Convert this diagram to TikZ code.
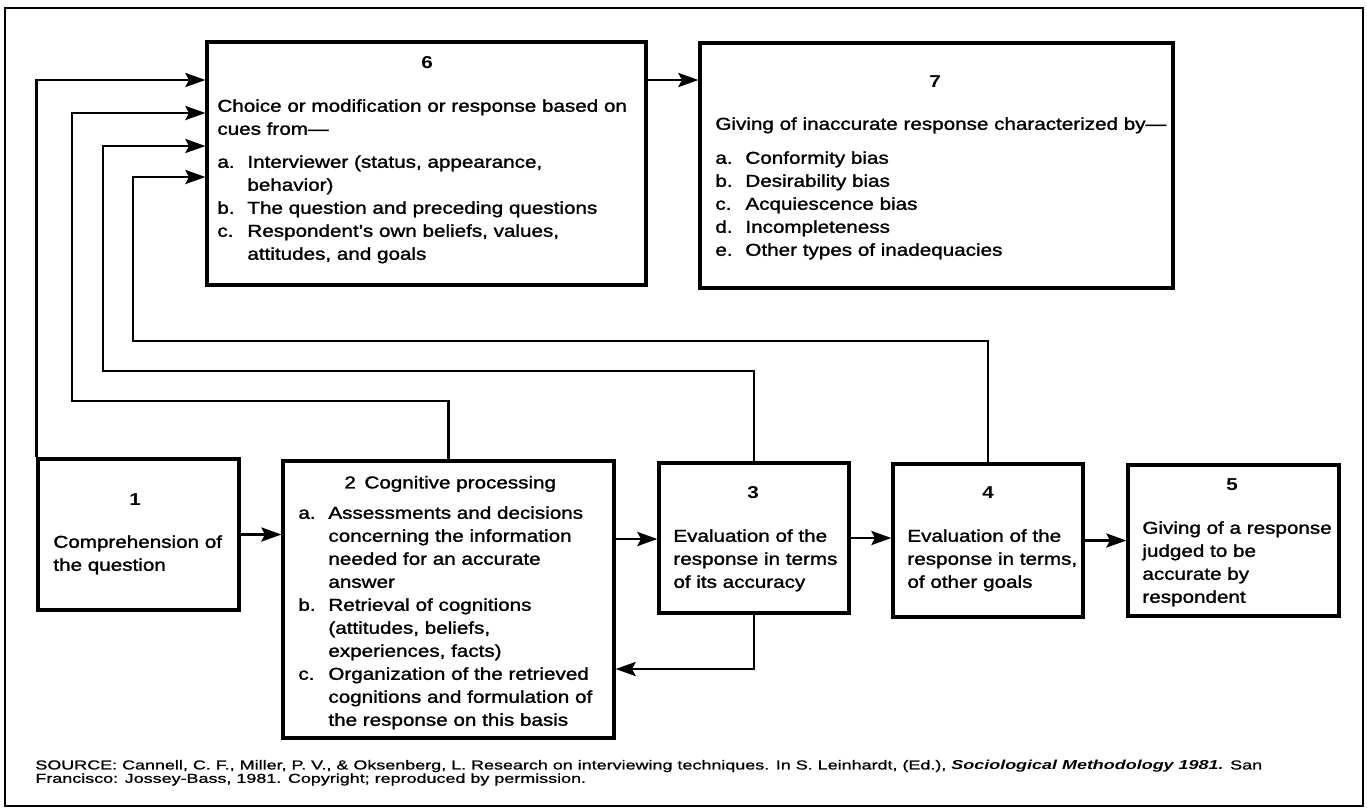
\documentclass[tikz,border=0pt]{standalone}
\usepackage{fontspec}
\setmainfont{Liberation Sans}[FakeStretch=1.2,UprightFeatures={FakeBold=1.5}]
\newfontfamily\srcfont{Liberation Sans}[FakeStretch=1.38,UprightFeatures={FakeBold=1}]
\usetikzlibrary{arrows.meta,fit}

\tikzset{
  box/.style={draw,line width=1.6pt,inner sep=0pt},
  num/.style={inner sep=0pt,font=\fontsize{8.6}{11.5}\selectfont\bfseries},
  txt/.style={inner sep=0pt,align=left,anchor=north west,yshift=8.05pt,
    execute at begin node=\strut,font=\fontsize{8.6}{11.5}\selectfont},
  src/.style={inner sep=0pt,align=left,anchor=north west,yshift=4.69pt,
    execute at begin node=\strut,font=\srcfont\fontsize{6.5}{6.7}\selectfont},
  link/.style={->,line width=1.4pt},
}
\newcommand{\lbl}[1]{\makebox[15pt][l]{#1}}
\newcommand{\ind}{\hspace*{15pt}}

\begin{document}
\begin{tikzpicture}[x=0.5pt,y=-0.5pt,>={Stealth[length=10pt,width=7pt,inset=1.8pt]}]
  \useasboundingbox (0,0) rectangle (1367,811);
  \draw[line width=1.2pt] (5,8) rectangle (1363,806);

  \node[box,fit={(207,42) (646,285)}] (b6) {};
  \node[box,fit={(700,43) (1173,288)}] (b7) {};
  \node[box,fit={(38,459) (239,610)}] (b1) {};
  \node[box,fit={(283,461) (614,738)}] (b2) {};
  \node[box,fit={(659,463) (849,613)}] (b3) {};
  \node[box,fit={(893,464) (1083,617)}] (b4) {};
  \node[box,fit={(1128,465) (1339,616)}] (b5) {};

  \foreach \n/\x/\y in {1/135/500,3/753/493,4/988/493,5/1232/485,6/427/63,7/935/82}
    \node[num] (n\n) at (\x,\y) {\n};

  \node[txt] (t6) at (217,115) {Choice or modification or response based on\\cues from—\\[5pt]
    \lbl{a.}Interviewer (status, appearance,\\\ind behavior)\\
    \lbl{b.}The question and preceding questions\\
    \lbl{c.}Respondent’s own beliefs, values,\\\ind attitudes, and goals};
  \node[txt] (t7) at (715,133) {Giving of inaccurate response characterized by—\\[5.5pt]
    \lbl{a.}Conformity bias\\\lbl{b.}Desirability bias\\\lbl{c.}Acquiescence bias\\
    \lbl{d.}Incompleteness\\\lbl{e.}Other types of inadequacies};
  \node[txt] (t2) at (344,488) {2\enspace Cognitive processing};
  \node[txt] (t2l) at (298,522) {\lbl{a.}Assessments and decisions\\\ind concerning the information\\
    \ind needed for an accurate\\\ind answer\\
    \lbl{b.}Retrieval of cognitions\\\ind (attitudes, beliefs,\\\ind experiences, facts)\\
    \lbl{c.}Organization of the retrieved\\\ind cognitions and formulation of\\\ind the response on this basis};
  \node[txt] (t1) at (53,551) {Comprehension of\\the question};
  \node[txt] (t3) at (673,545) {Evaluation of the\\response in terms\\of its accuracy};
  \node[txt] (t4) at (907,545) {Evaluation of the\\response in terms,\\of other goals};
  \node[txt] (t5) at (1142,537) {Giving of a response\\judged to be\\accurate by\\respondent};

  \node[src] (s) at (35,769) {SOURCE: Cannell, C. F., Miller, P. V., \& Oksenberg, L. Research on interviewing techniques. In S. Leinhardt, (Ed.), \textbf{\textit{Sociological Methodology 1981.}} San\\Francisco: Jossey-Bass, 1981. Copyright; reproduced by permission.};

  \coordinate (y67) at (0,80);
  \coordinate (y23) at (0,539);
  \coordinate (y32) at (0,669);
  \draw[link] (b6.east |- y67) -- (b7.west |- y67);
  \draw[link] (b1.east) -- (b1.east -| b2.west);
  \draw[link] (b2.east |- y23) -- (b3.west |- y23);
  \draw[link] (b3.east) -- (b3.east -| b4.west);
  \draw[link] (b4.east) -- (b4.east -| b5.west);
  \draw[link] (b3.south) |- (b2.east |- y32);

  \draw[link] (b1.north west) |- (b6.west |- y67);
  \foreach \b/\x/\h/\a in {2/72/401/113,3/103/371/146,4/133/341/177}{
    \coordinate (f\b) at (\x,\h);
    \coordinate (e\b) at (0,\a);
    \draw[link] (b\b.north) |- (f\b) |- (b6.west |- e\b);
  }
\end{tikzpicture}
\end{document}
